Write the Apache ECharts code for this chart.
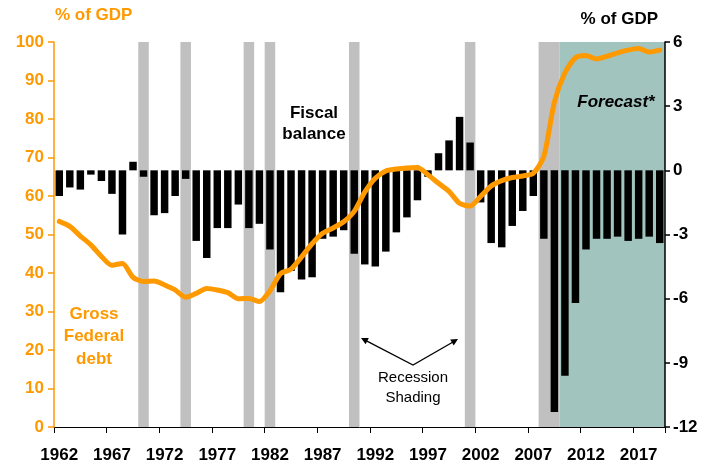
<!DOCTYPE html>
<html>
<head>
<meta charset="utf-8">
<script src="https://cdn.jsdelivr.net/npm/echarts@6/dist/echarts.min.js"></script>
<style>
html,body{margin:0;padding:0;background:#fff;}
#chart{width:706px;height:465px;}
</style>
</head>
<body>
<div id="chart"></div>
<script>
// ---------- data ----------
const years = [];
for (let y = 1962; y <= 2019; y++) years.push(String(y));

// Fiscal balance, % of GDP (right axis)
const fiscalBalance = [
  -1.2, -0.8, -0.9, -0.2, -0.5, -1.1, -3.0, 0.4, -0.3, -2.1,
  -2.0, -1.2, -0.4, -3.3, -4.1, -2.7, -2.7, -1.6, -2.7, -2.5,
  -3.7, -5.7, -4.7, -5.1, -5.0, -3.2, -3.1, -2.8, -3.9, -4.4,
  -4.5, -3.8, -2.9, -2.2, -1.4, -0.3, 0.8, 1.4, 2.5, 1.3,
  -1.5, -3.4, -3.6, -2.6, -1.9, -1.2, -3.2, -11.3, -9.6, -6.2,
  -3.7, -3.2, -3.2, -3.1, -3.3, -3.2, -3.1, -3.4
];

// Gross Federal debt, % of GDP (left axis)
const grossDebt = [
  53.4, 52.1, 49.6, 47.3, 44.3, 42.0, 42.5, 38.9, 37.8, 37.9,
  36.9, 35.6, 33.7, 34.7, 36.0, 35.6, 34.9, 33.3, 33.4, 32.6,
  35.4, 39.8, 41.0, 44.2, 47.6, 50.3, 51.7, 53.3, 56.0, 61.0,
  64.6, 66.5, 67.0, 67.3, 67.4, 65.5, 63.3, 61.2, 58.1, 57.4,
  59.9, 62.6, 64.0, 64.8, 65.2, 65.9, 70.3, 84.4, 92.0, 95.9,
  96.5, 95.6, 96.3, 97.2, 97.9, 98.3, 97.4, 97.9
];

// Recession periods [start year, end year] (inclusive, whole years)
const recessions = [[1970, 1970], [1974, 1974], [1980, 1980], [1982, 1982], [1990, 1990], [2001, 2001], [2008, 2009]];
const forecastRange = [2010, 2019];

const leftTicks = { min: 0, max: 100, step: 10 };
const rightTicks = { min: -12, max: 6, step: 3 };

// ---------- chart ----------
const ORANGE = '#FF9900';
const GREY = '#C0C0C0';
const TEAL = '#A1C4BE';
const FONT = '"Liberation Sans", Arial, sans-serif';
const SHADE_TOP = 101.2;
const firstYear = Number(years[0]);
const lastYear = Number(years[years.length - 1]);

function area(a, b, color) {
  return [
    { xAxis: a, yAxis: 0, itemStyle: { color: color } },
    { xAxis: b + 1, yAxis: SHADE_TOP }
  ];
}
const shadeAreas = recessions.map(r => area(r[0], r[1], GREY))
  .concat([area(forecastRange[0], forecastRange[1], TEAL)]);

const chart = echarts.init(document.getElementById('chart'), null, { renderer: 'canvas' });

const option = {
  animation: false,
  backgroundColor: '#fff',
  textStyle: { fontFamily: FONT },
  grid: { left: 54, right: 41, top: 42, bottom: 38, containLabel: false },
  xAxis: [
    {
      type: 'category',
      data: years,
      boundaryGap: true,
      axisLine: { show: true, lineStyle: { color: '#000', width: 1 } },
      axisTick: { show: true, interval: 4, length: 6, lineStyle: { color: '#000', width: 1 } },
      axisLabel: { interval: 4, color: '#000', fontWeight: 'bold', fontSize: 17, fontFamily: FONT, margin: 20 },
      splitLine: { show: false },
      z: 10
    },
    {
      type: 'value',
      min: firstYear,
      max: lastYear + 1,
      show: false
    }
  ],
  yAxis: [
    {
      type: 'value',
      position: 'left',
      min: leftTicks.min, max: leftTicks.max, interval: leftTicks.step,
      axisLine: { show: true, lineStyle: { color: ORANGE, width: 1.5 } },
      axisTick: { show: true, length: 6, lineStyle: { color: ORANGE, width: 1.5 } },
      axisLabel: { color: ORANGE, fontWeight: 'bold', fontSize: 17, fontFamily: FONT, margin: 10 },
      splitLine: { show: false },
      z: 11
    },
    {
      type: 'value',
      position: 'right',
      min: rightTicks.min, max: rightTicks.max, interval: rightTicks.step,
      axisLine: { show: true, lineStyle: { color: '#000', width: 1.5 } },
      axisTick: { show: true, length: 5, lineStyle: { color: '#000', width: 1.5 } },
      axisLabel: { color: '#000', fontWeight: 'bold', fontSize: 17, fontFamily: FONT, margin: 8 },
      splitLine: { show: false },
      z: 11
    }
  ],
  series: [
    {
      name: 'Shading',
      type: 'line',
      xAxisIndex: 1, yAxisIndex: 0,
      data: [],
      clip: false,
      silent: true,
      z: 1,
      markArea: {
        silent: true,
        z: 1,
        itemStyle: { opacity: 1 },
        data: shadeAreas
      }
    },
    {
      name: 'Fiscal balance',
      type: 'bar',
      xAxisIndex: 0, yAxisIndex: 1,
      data: fiscalBalance,
      barWidth: '71%',
      itemStyle: { color: '#000' },
      z: 3
    },
    {
      name: 'Gross Federal debt',
      type: 'line',
      xAxisIndex: 0, yAxisIndex: 0,
      data: grossDebt,
      symbol: 'none',
      smooth: 0.25,
      lineStyle: { color: ORANGE, width: 5, cap: 'round', join: 'round' },
      z: 5
    }
  ],
  graphic: [
    { type: 'text', left: 55, top: 7, style: { text: '% of GDP', fill: ORANGE, font: 'bold 17px ' + FONT } },
    { type: 'text', right: 48, top: 11, style: { text: '% of GDP', fill: '#000', font: 'bold 17px ' + FONT } },
    { type: 'text', x: 314, y: 103, style: { text: 'Fiscal\nbalance', fill: '#000', font: 'bold 17px ' + FONT, align: 'center', lineHeight: 21 }, z: 20 },
    { type: 'text', x: 94, y: 303, style: { text: 'Gross\nFederal\ndebt', fill: ORANGE, font: 'bold 17px ' + FONT, align: 'center', lineHeight: 22.5 }, z: 20 },
    { type: 'text', x: 616, y: 94, style: { text: 'Forecast*', fill: '#000', font: 'italic bold 17px ' + FONT, align: 'center' }, z: 20 },
    { type: 'text', x: 413, y: 368, style: { text: 'Recession\nShading', fill: '#000', font: '15px ' + FONT, align: 'center', lineHeight: 20 }, z: 20 },
    { type: 'polyline', shape: { points: [[366, 340.6], [413, 365], [453, 342]] }, style: { stroke: '#000', lineWidth: 1.3, fill: null }, z: 20 },
    { type: 'polygon', shape: { points: [[361, 338], [368.8, 338.1], [365.6, 344.3]] }, style: { fill: '#000' }, z: 20 },
    { type: 'polygon', shape: { points: [[458, 339], [453.7, 345.5], [450.2, 339.5]] }, style: { fill: '#000' }, z: 20 }
  ]
};

chart.setOption(option);
</script>
</body>
</html>
